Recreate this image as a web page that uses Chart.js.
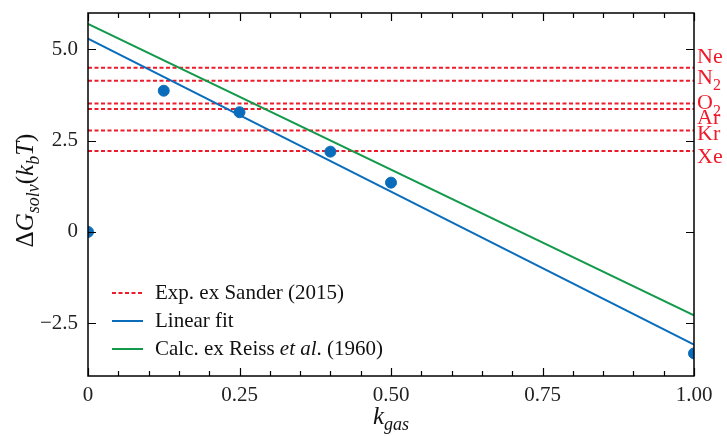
<!DOCTYPE html>
<html>
<head>
<meta charset="utf-8">
<script src="https://cdn.jsdelivr.net/npm/chart.js@4.4.1/dist/chart.umd.min.js"></script>
<style>
    html, body { margin: 0; padding: 0; background: #fff; }
    #wrap { width: 727px; height: 436px; }
</style>
</head>
<body>
<div id="wrap"><canvas id="gasChart"></canvas></div>
<script>
// data
const kGas = [0, 0.125, 0.25, 0.4, 0.5, 1.0];
const dGsolv = [0, 3.87, 3.28, 2.2, 1.35, -3.33];

const fitX = [0, 1];
const linearFitY = [5.3, -3.09];
const reissY = [5.7, -2.29];

const gasNames = ["Ne", "N2", "O2", "Ar", "Kr", "Xe"];
const gasValues = [4.5, 4.14, 3.52, 3.37, 2.78, 2.22];
// small vertical nudges (px) so the gas labels do not overlap
const gasLabelNudge = [-11, -3, 0, 9, 4, 6];

const xTickLabels = { 0: "0", 0.25: "0.25", 0.5: "0.50", 0.75: "0.75", 1: "1.00" };
const yTickLabels = { "-2.5": "\u22122.5", 0: "0", 2.5: "2.5", 5: "5.0" };

const BLUE = "#0a6dbb";
const GREEN = "#12994a";
const RED = "#ee1c2b";
const SERIF = "'Liberation Serif', 'DejaVu Serif', serif";

function toXY(xs, ys) {
    return xs.map((x, i) => ({ x: x, y: ys[i] }));
}

const datasets = [
    {
        label: "points",
        type: "scatter",
        data: toXY(kGas, dGsolv),
        backgroundColor: BLUE,
        borderColor: BLUE,
        pointRadius: 5.5,
    },
    {
        label: "Linear fit",
        type: "line",
        data: toXY(fitX, linearFitY),
        borderColor: BLUE,
        borderWidth: 2,
        pointRadius: 0,
    },
    {
        label: "Calc. ex Reiss et al. (1960)",
        type: "line",
        data: toXY(fitX, reissY),
        borderColor: GREEN,
        borderWidth: 2,
        pointRadius: 0,
    },
];
gasValues.forEach((v, i) => {
    datasets.push({
        label: gasNames[i],
        type: "line",
        data: toXY(fitX, [v, v]),
        borderColor: RED,
        borderWidth: 2,
        borderDash: [4, 2.5],
        pointRadius: 0,
    });
});

// frame, inward ticks, gas labels, axis titles and legend
const decorations = {
    id: "decorations",
    afterDraw(chart) {
        const ctx = chart.ctx;
        const a = chart.chartArea;
        const xs = chart.scales.x;
        const ys = chart.scales.y;
        ctx.save();

        ctx.strokeStyle = "#000";
        ctx.lineWidth = 1.5;
        ctx.strokeRect(a.left, a.top, a.right - a.left, a.bottom - a.top);

        ctx.lineWidth = 1.2;
        ctx.beginPath();
        xs.ticks.forEach((t) => {
            const px = Math.round(xs.getPixelForValue(t.value)) + 0.5;
            const major = Math.abs(t.value * 4 - Math.round(t.value * 4)) < 1e-6;
            const len = major ? 8 : 5;
            ctx.moveTo(px, a.bottom);
            ctx.lineTo(px, a.bottom - len);
            ctx.moveTo(px, a.top);
            ctx.lineTo(px, a.top + len);
        });
        ys.ticks.forEach((t) => {
            const py = Math.round(ys.getPixelForValue(t.value)) + 0.5;
            ctx.moveTo(a.left, py);
            ctx.lineTo(a.left + 8, py);
            ctx.moveTo(a.right, py);
            ctx.lineTo(a.right - 8, py);
        });
        ctx.stroke();

        // gas labels on the right
        ctx.fillStyle = RED;
        ctx.textBaseline = "middle";
        ctx.textAlign = "left";
        gasNames.forEach((name, i) => {
            const py = ys.getPixelForValue(gasValues[i]) + gasLabelNudge[i];
            const x0 = a.right + 3;
            const base = name.replace(/\d+$/, "");
            const sub = name.slice(base.length);
            ctx.font = "22px " + SERIF;
            ctx.fillText(base, x0, py);
            if (sub) {
                const w = ctx.measureText(base).width;
                ctx.font = "16px " + SERIF;
                ctx.fillText(sub, x0 + w, py + 8);
            }
        });

        // x title: k_gas
        ctx.fillStyle = "#111";
        ctx.textBaseline = "alphabetic";
        const cx = (a.left + a.right) / 2;
        ctx.font = "italic 25px " + SERIF;
        const kw = ctx.measureText("k").width;
        ctx.font = "italic 18px " + SERIF;
        const gw = ctx.measureText("gas").width;
        let sx = cx - (kw + gw) / 2;
        ctx.font = "italic 25px " + SERIF;
        ctx.fillText("k", sx, 424);
        ctx.font = "italic 18px " + SERIF;
        ctx.fillText("gas", sx + kw, 430);

        // y title: ΔG_solv(k_b T), rotated
        const parts = [
            { t: "\u0394", f: "25px", dy: 0 },
            { t: "G", f: "italic 25px", dy: 0 },
            { t: "solv", f: "italic 18px", dy: 6 },
            { t: "(", f: "25px", dy: 0 },
            { t: "k", f: "italic 25px", dy: 0 },
            { t: "b", f: "italic 18px", dy: 6 },
            { t: "T", f: "italic 25px", dy: 0 },
            { t: ")", f: "25px", dy: 0 },
        ];
        let total = 0;
        parts.forEach((p) => {
            ctx.font = p.f + " " + SERIF;
            p.w = ctx.measureText(p.t).width;
            total += p.w;
        });
        ctx.translate(33, (a.top + a.bottom) / 2 - 4);
        ctx.rotate(-Math.PI / 2);
        let px = -total / 2;
        parts.forEach((p) => {
            ctx.font = p.f + " " + SERIF;
            ctx.fillText(p.t, px, p.dy);
            px += p.w;
        });
        ctx.setTransform(1, 0, 0, 1, 0, 0);

        // legend, lower left
        const rows = [
            { color: RED, dash: [4, 2.5], parts: [{ t: "Exp. ex Sander (2015)", f: "" }] },
            { color: BLUE, dash: [], parts: [{ t: "Linear fit", f: "" }] },
            {
                color: GREEN,
                dash: [],
                parts: [
                    { t: "Calc. ex Reiss ", f: "" },
                    { t: "et al", f: "italic " },
                    { t: ". (1960)", f: "" },
                ],
            },
        ];
        rows.forEach((r, i) => {
            const y = 293 + i * 28;
            ctx.strokeStyle = r.color;
            ctx.lineWidth = 2;
            ctx.setLineDash(r.dash);
            ctx.beginPath();
            ctx.moveTo(112, y);
            ctx.lineTo(143, y);
            ctx.stroke();
            ctx.setLineDash([]);
            ctx.fillStyle = "#111";
            ctx.textBaseline = "middle";
            let tx = 155;
            r.parts.forEach((p) => {
                ctx.font = p.f + "21px " + SERIF;
                ctx.fillText(p.t, tx, y);
                tx += ctx.measureText(p.t).width;
            });
        });

        ctx.restore();
    },
};

new Chart(document.getElementById("gasChart"), {
    type: "scatter",
    data: { datasets: datasets },
    options: {
        responsive: true,
        maintainAspectRatio: false,
        animation: false,
        layout: { padding: { top: 13, right: 33, left: 0, bottom: 0 } },
        scales: {
            x: {
                type: "linear",
                min: 0,
                max: 1,
                grid: { drawOnChartArea: false, drawTicks: false },
                border: { display: false },
                ticks: {
                    stepSize: 0.05,
                    autoSkip: false,
                    maxRotation: 0,
                    padding: 7,
                    color: "#222",
                    font: { family: SERIF, size: 21 },
                    callback: function (value) {
                        const key = Math.round(value * 100) / 100;
                        return xTickLabels[key] !== undefined ? xTickLabels[key] : "";
                    },
                },
                afterFit: function (scale) {
                    scale.height = 60;
                    scale.paddingLeft = 0;
                    scale.paddingRight = 0;
                },
            },
            y: {
                type: "linear",
                min: -3.95,
                max: 6.0,
                grid: { drawOnChartArea: false, drawTicks: false },
                border: { display: false },
                ticks: {
                    stepSize: 2.5,
                    includeBounds: false,
                    padding: 10,
                    color: "#222",
                    font: { family: SERIF, size: 21 },
                    callback: function (value) {
                        return yTickLabels[value] !== undefined ? yTickLabels[value] : "";
                    },
                },
                afterFit: function (scale) {
                    scale.width = 88;
                    scale.paddingTop = 0;
                    scale.paddingBottom = 0;
                },
            },
        },
        plugins: {
            legend: { display: false },
            tooltip: { enabled: false },
        },
    },
    plugins: [decorations],
});
</script>
</body>
</html>
